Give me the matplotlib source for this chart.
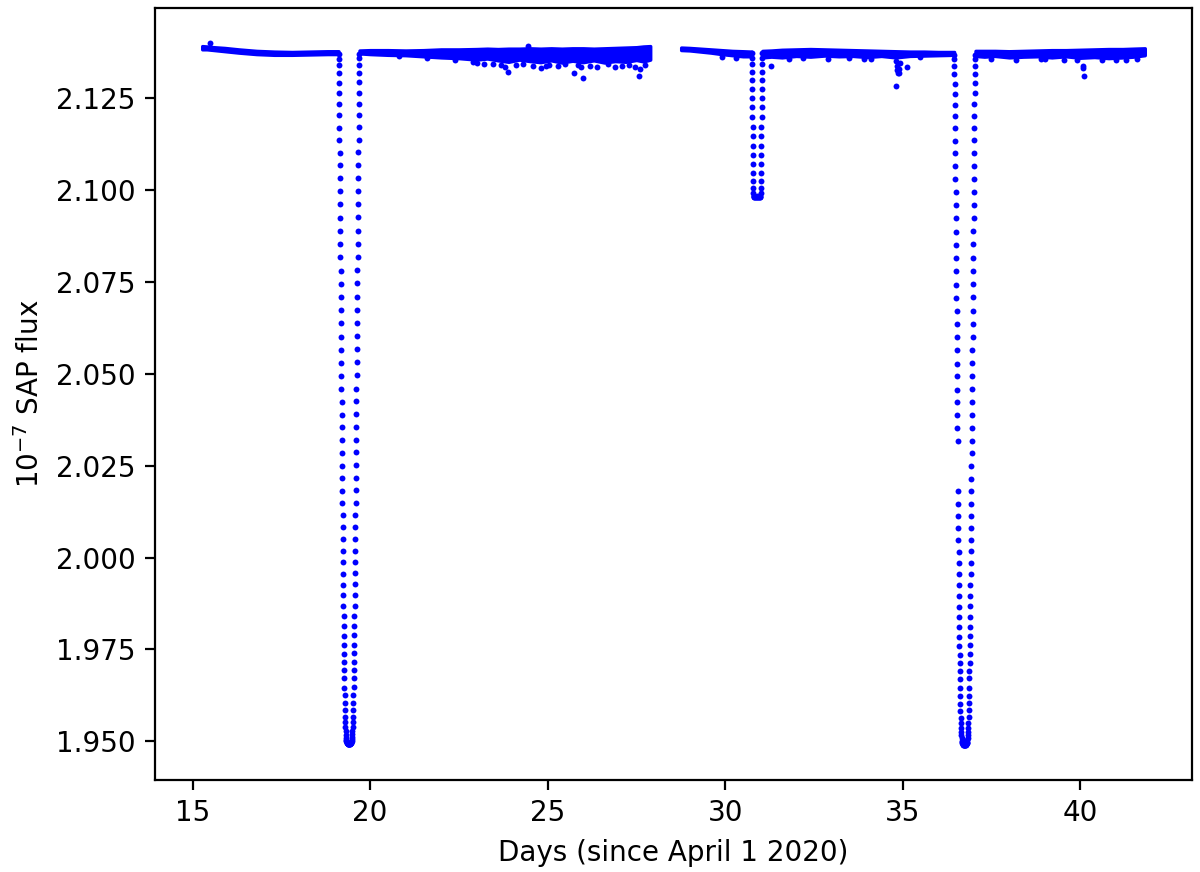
import numpy as np
import matplotlib
matplotlib.use("Agg")
import matplotlib.pyplot as plt

# baseline band (upper / lower edge of the dense point cloud)
seg1a_t = [15.27, 15.40, 15.60, 15.90, 16.30, 16.80, 17.30, 17.80, 18.30, 18.80, 19.11]
seg1a_hi = [2.1392, 2.1391, 2.1389, 2.1387, 2.1383, 2.1379, 2.1377, 2.1376, 2.1377, 2.1378, 2.1378]
seg1a_lo = [2.1383, 2.1383, 2.1381, 2.1378, 2.1374, 2.1370, 2.1368, 2.1368, 2.1369, 2.1370, 2.1370]

seg1b_t = [19.70, 20.0, 20.5, 21.0, 21.5, 22.0, 22.5, 23.0, 23.3, 23.6, 23.9, 24.2, 24.5,
           24.8, 25.1, 25.4, 25.7, 26.0, 26.3, 26.6, 26.9, 27.2, 27.5, 27.7, 27.89]
seg1b_hi = [2.1380, 2.1381, 2.1381, 2.1380, 2.1381, 2.1383, 2.1383, 2.1384, 2.1385, 2.1384,
            2.1385, 2.1385, 2.1386, 2.1385, 2.1386, 2.1385, 2.1386, 2.1386, 2.1385, 2.1386,
            2.1387, 2.1388, 2.1389, 2.1391, 2.1392]
seg1b_lo = [2.1372, 2.1370, 2.1368, 2.1367, 2.1364, 2.1361, 2.1359, 2.1355, 2.1358, 2.1353,
            2.1349, 2.1355, 2.1351, 2.1348, 2.1353, 2.1347, 2.1352, 2.1348, 2.1353, 2.1347,
            2.1351, 2.1349, 2.1354, 2.1350, 2.1355]

seg2a_t = [28.76, 29.0, 29.3, 29.6, 29.9, 30.2, 30.5, 30.74]
seg2a_hi = [2.1388, 2.1387, 2.1385, 2.1383, 2.1381, 2.1379, 2.1378, 2.1377]
seg2a_lo = [2.1381, 2.1380, 2.1377, 2.1374, 2.1370, 2.1367, 2.1364, 2.1364]

seg2b_t = [31.05, 31.3, 31.6, 32.0, 32.4, 32.8, 33.2, 33.6, 34.0, 34.4, 34.8, 35.2, 35.6, 36.0, 36.45]
seg2b_hi = [2.1379, 2.1380, 2.1382, 2.1383, 2.1384, 2.1383, 2.1382, 2.1381, 2.1380, 2.1379,
            2.1378, 2.1377, 2.1377, 2.1376, 2.1376]
seg2b_lo = [2.1361, 2.1363, 2.1361, 2.1365, 2.1363, 2.1366, 2.1364, 2.1365, 2.1362, 2.1365,
            2.1361, 2.1365, 2.1366, 2.1367, 2.1368]

seg2c_t = [37.05, 37.3, 37.6, 38.0, 38.4, 38.8, 39.2, 39.6, 40.0, 40.4, 40.8, 41.2, 41.5, 41.82]
seg2c_hi = [2.1379, 2.1379, 2.1379, 2.1378, 2.1379, 2.1380, 2.1381, 2.1381, 2.1382, 2.1383,
            2.1384, 2.1384, 2.1385, 2.1386]
seg2c_lo = [2.1365, 2.1363, 2.1365, 2.1361, 2.1363, 2.1364, 2.1361, 2.1364, 2.1360, 2.1362,
            2.1359, 2.1361, 2.1363, 2.1367]

# stray points away from the band
out_t = [15.48, 20.80, 21.60, 22.40, 22.90, 23.00, 23.20, 23.45, 23.70, 23.81, 23.89, 24.10,
         24.30, 24.45, 24.60, 24.80, 24.95, 25.05, 25.30, 25.50, 25.74, 25.85, 25.95, 26.01,
         26.20, 26.40, 26.70, 26.90, 27.10, 27.30, 27.45, 27.57, 27.60, 27.75,
         29.90, 30.30, 31.29, 31.80, 32.20, 32.90, 33.50, 33.90, 34.10, 34.82, 35.11, 35.50,
         37.50, 38.20, 38.90, 39.00, 39.55, 39.90, 40.07, 40.09, 40.10, 40.60, 41.00, 41.30, 41.60]
out_f = [2.1400, 2.1364, 2.1359, 2.1354, 2.1348, 2.1347, 2.1343, 2.1344, 2.1340, 2.1334, 2.1322, 2.1340,
         2.1342, 2.1393, 2.1338, 2.1331, 2.1337, 2.1341, 2.1338, 2.1343, 2.1320, 2.1340, 2.1335, 2.1305,
         2.1339, 2.1336, 2.1342, 2.1336, 2.1339, 2.1341, 2.1335, 2.1310, 2.1330, 2.1340,
         2.1363, 2.1359, 2.1337, 2.1357, 2.1359, 2.1358, 2.1359, 2.1358, 2.1357, 2.1284, 2.1336, 2.1361,
         2.1358, 2.1355, 2.1357, 2.1356, 2.1355, 2.1354, 2.1332, 2.1339, 2.1310, 2.1353, 2.1354, 2.1355, 2.1357]

# small dip near day 34.9
ev_t = [34.80, 34.83, 34.85, 34.87, 34.89, 34.91, 34.93]
ev_f = [2.1350, 2.1338, 2.1326, 2.1318, 2.1320, 2.1330, 2.1345]

# primary eclipse 1
dip1_t = [19.110, 19.113, 19.116, 19.119, 19.122, 19.125, 19.128, 19.131, 19.134, 19.137,
          19.140, 19.143, 19.146, 19.149, 19.152, 19.155, 19.158, 19.161, 19.164, 19.167,
          19.170, 19.173, 19.176, 19.179, 19.182, 19.185, 19.188, 19.191, 19.194, 19.197,
          19.200, 19.203, 19.206, 19.209, 19.212, 19.215, 19.218, 19.221, 19.224, 19.227,
          19.230, 19.233, 19.236, 19.239, 19.242, 19.245, 19.248, 19.251, 19.254, 19.257,
          19.260, 19.263, 19.266, 19.269, 19.272,
          19.276, 19.280, 19.284, 19.288, 19.293, 19.297, 19.302, 19.307, 19.313, 19.319,
          19.326, 19.333, 19.341, 19.349, 19.358, 19.367, 19.377, 19.386, 19.396, 19.405,
          19.414, 19.424, 19.433, 19.443, 19.452, 19.461, 19.469, 19.477, 19.484, 19.491,
          19.497, 19.503, 19.508, 19.513, 19.517, 19.522, 19.526, 19.530, 19.534, 19.538,
          19.541, 19.544, 19.547, 19.550, 19.553, 19.556, 19.559, 19.562, 19.565, 19.568,
          19.571, 19.574, 19.577, 19.580, 19.583, 19.586, 19.589, 19.592, 19.595, 19.598,
          19.601, 19.604, 19.607, 19.610, 19.613, 19.616, 19.619, 19.622, 19.625, 19.628,
          19.631, 19.634, 19.637, 19.640, 19.643, 19.646, 19.649, 19.652, 19.655, 19.658,
          19.661, 19.664, 19.667, 19.670, 19.673, 19.676, 19.679, 19.682, 19.685, 19.688,
          19.691, 19.694, 19.697, 19.700]
dip1_f = [2.1370, 2.1358, 2.1340, 2.1318, 2.1292, 2.1264, 2.1234, 2.1203, 2.1170, 2.1136,
          2.1102, 2.1067, 2.1032, 2.0997, 2.0961, 2.0925, 2.0889, 2.0853, 2.0817, 2.0781,
          2.0745, 2.0709, 2.0673, 2.0637, 2.0601, 2.0566, 2.0530, 2.0495, 2.0459, 2.0424,
          2.0389, 2.0354, 2.0319, 2.0285, 2.0250, 2.0216, 2.0182, 2.0148, 2.0115, 2.0082,
          2.0050, 2.0018, 1.9987, 1.9956, 1.9926, 1.9897, 1.9868, 1.9840, 1.9813, 1.9787,
          1.9762, 1.9738, 1.9715, 1.9693, 1.9672,
          1.9646, 1.9625, 1.9604, 1.9585, 1.9566, 1.9552, 1.9538, 1.9527, 1.9518, 1.9510,
          1.9504, 1.9500, 1.9497, 1.9495, 1.9494, 1.9493, 1.9492, 1.9492, 1.9492, 1.9492,
          1.9492, 1.9493, 1.9493, 1.9494, 1.9495, 1.9496, 1.9498, 1.9501, 1.9505, 1.9511,
          1.9519, 1.9528, 1.9539, 1.9553, 1.9567, 1.9586, 1.9605, 1.9626, 1.9648, 1.9673,
          1.9694, 1.9716, 1.9739, 1.9763, 1.9788, 1.9814, 1.9841, 1.9869, 1.9898, 1.9927,
          1.9957, 1.9988, 2.0019, 2.0051, 2.0083, 2.0116, 2.0149, 2.0183, 2.0217, 2.0251,
          2.0286, 2.0320, 2.0355, 2.0390, 2.0425, 2.0460, 2.0496, 2.0531, 2.0567, 2.0602,
          2.0638, 2.0674, 2.0710, 2.0746, 2.0782, 2.0818, 2.0854, 2.0890, 2.0926, 2.0962,
          2.0998, 2.1033, 2.1068, 2.1103, 2.1137, 2.1171, 2.1204, 2.1235, 2.1265, 2.1293,
          2.1319, 2.1341, 2.1359, 2.1371]

# secondary eclipse (flat bottom)
dip2_t = [30.745, 30.748, 30.751, 30.754, 30.757, 30.760, 30.763, 30.766, 30.769, 30.772,
          30.775, 30.778, 30.781, 30.784, 30.787, 30.790, 30.793, 30.796, 30.800, 30.805,
          30.812, 30.825, 30.840, 30.855, 30.870, 30.885, 30.900, 30.915, 30.930, 30.945,
          30.960, 30.975, 30.990,
          30.995, 30.999, 31.002, 31.005, 31.008, 31.011, 31.014, 31.017, 31.020, 31.023,
          31.026, 31.029, 31.032, 31.035, 31.038, 31.041, 31.044, 31.047, 31.050]
dip2_f = [2.1372, 2.1360, 2.1343, 2.1322, 2.1299, 2.1275, 2.1250, 2.1225, 2.1199, 2.1173,
          2.1147, 2.1121, 2.1095, 2.1070, 2.1046, 2.1024, 2.1005, 2.0992, 2.0985, 2.0982,
          2.0981, 2.0983, 2.0980, 2.0982, 2.0981, 2.0983, 2.0980, 2.0982, 2.0981, 2.0983,
          2.0980, 2.0982, 2.0981,
          2.0985, 2.0992, 2.1005, 2.1024, 2.1046, 2.1070, 2.1095, 2.1121, 2.1147, 2.1173,
          2.1199, 2.1225, 2.1250, 2.1275, 2.1299, 2.1322, 2.1343, 2.1360, 2.1372]

# primary eclipse 2 (with a short data gap on ingress)
dip3_t = [36.450, 36.453, 36.456, 36.459, 36.462, 36.465, 36.468, 36.471, 36.474, 36.477,
          36.480, 36.483, 36.486, 36.489, 36.492, 36.495, 36.498, 36.501, 36.504, 36.507,
          36.510, 36.513, 36.516, 36.519, 36.522, 36.525, 36.528, 36.531, 36.534, 36.537,
          36.540, 36.543, 36.546, 36.558, 36.561, 36.564, 36.567,
          36.570, 36.573, 36.576, 36.579, 36.582, 36.585, 36.588, 36.591, 36.594, 36.597,
          36.600, 36.603, 36.606, 36.609, 36.612,
          36.616, 36.620, 36.624, 36.628, 36.633, 36.637, 36.642, 36.647, 36.653, 36.659,
          36.666, 36.673, 36.681, 36.689, 36.698, 36.707, 36.717, 36.726, 36.736, 36.745,
          36.754, 36.764, 36.773, 36.783, 36.792, 36.801, 36.809, 36.817, 36.824, 36.831,
          36.837, 36.843, 36.848, 36.853, 36.857, 36.862, 36.866, 36.870, 36.874, 36.878,
          36.881, 36.884, 36.887, 36.890, 36.893, 36.896, 36.899, 36.902, 36.905, 36.908,
          36.911, 36.914, 36.917, 36.920, 36.923, 36.926, 36.929, 36.932, 36.935, 36.938,
          36.941, 36.944, 36.947, 36.950, 36.953, 36.956, 36.959, 36.962, 36.965, 36.968,
          36.971, 36.974, 36.977, 36.980, 36.983, 36.986, 36.989, 36.992, 36.995, 36.998,
          37.001, 37.004, 37.007, 37.010, 37.013, 37.016, 37.019, 37.022, 37.025, 37.028,
          37.031, 37.034, 37.037, 37.040]
dip3_f = [2.1369, 2.1356, 2.1338, 2.1316, 2.1290, 2.1262, 2.1232, 2.1201, 2.1168, 2.1134,
          2.1100, 2.1065, 2.1030, 2.0995, 2.0959, 2.0923, 2.0887, 2.0851, 2.0815, 2.0779,
          2.0743, 2.0707, 2.0671, 2.0635, 2.0599, 2.0564, 2.0528, 2.0493, 2.0457, 2.0422,
          2.0387, 2.0352, 2.0317, 2.0180, 2.0146, 2.0113, 2.0080,
          2.0048, 2.0016, 1.9985, 1.9954, 1.9924, 1.9895, 1.9866, 1.9838, 1.9811, 1.9785,
          1.9760, 1.9736, 1.9713, 1.9691, 1.9670,
          1.9644, 1.9623, 1.9602, 1.9583, 1.9564, 1.9550, 1.9536, 1.9525, 1.9516, 1.9508,
          1.9502, 1.9498, 1.9495, 1.9493, 1.9492, 1.9491, 1.9490, 1.9490, 1.9490, 1.9490,
          1.9490, 1.9491, 1.9491, 1.9492, 1.9493, 1.9494, 1.9496, 1.9499, 1.9503, 1.9509,
          1.9517, 1.9526, 1.9537, 1.9551, 1.9565, 1.9584, 1.9603, 1.9624, 1.9646, 1.9671,
          1.9692, 1.9714, 1.9737, 1.9761, 1.9786, 1.9812, 1.9839, 1.9867, 1.9896, 1.9925,
          1.9955, 1.9986, 2.0017, 2.0049, 2.0081, 2.0114, 2.0147, 2.0181, 2.0215, 2.0249,
          2.0284, 2.0318, 2.0353, 2.0388, 2.0423, 2.0458, 2.0494, 2.0529, 2.0565, 2.0600,
          2.0636, 2.0672, 2.0708, 2.0744, 2.0780, 2.0816, 2.0852, 2.0888, 2.0924, 2.0960,
          2.0996, 2.1031, 2.1066, 2.1101, 2.1135, 2.1169, 2.1202, 2.1233, 2.1263, 2.1291,
          2.1317, 2.1339, 2.1357, 2.1369]

fig = plt.figure(figsize=(6, 4.36), dpi=200)
ax = fig.add_subplot(111)
fig.subplots_adjust(left=0.1292, right=0.9933, top=0.9908, bottom=0.1055)

for t, lo, hi in [(seg1a_t, seg1a_lo, seg1a_hi), (seg1b_t, seg1b_lo, seg1b_hi),
                  (seg2a_t, seg2a_lo, seg2a_hi), (seg2b_t, seg2b_lo, seg2b_hi),
                  (seg2c_t, seg2c_lo, seg2c_hi)]:
    ax.fill_between(t, lo, hi, color="b", linewidth=1.2, edgecolor="b")

pts_t = np.concatenate([dip1_t, dip2_t, dip3_t, out_t, ev_t])
pts_f = np.concatenate([dip1_f, dip2_f, dip3_f, out_f, ev_f])
ax.scatter(pts_t, pts_f, s=4.5, c="b", linewidths=0)

ax.set_xlabel("Days (since April 1 2020)")
ax.set_ylabel("$10^{-7}$ SAP flux")

fig.savefig("out.png", dpi=200)
